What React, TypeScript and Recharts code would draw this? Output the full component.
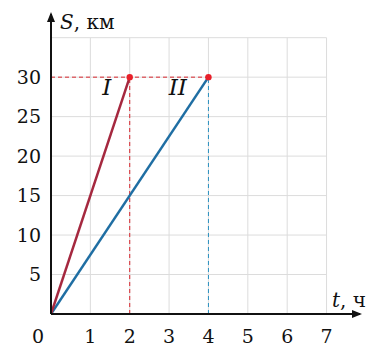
import React from 'react';
import { ComposedChart, Line, XAxis, YAxis, ReferenceLine, ReferenceDot } from 'recharts';

const lineI = [{ t: 0, s: 0 }, { t: 2, s: 30 }];
const lineII = [{ t: 0, s: 0 }, { t: 4, s: 30 }];
const xTicks = [0, 1, 2, 3, 4, 5, 6, 7];
const yTicks = [5, 10, 15, 20, 25, 30];
const gridX = [1, 2, 3, 4, 5, 6, 7];
const gridY = [5, 10, 15, 20, 25, 30, 35];
const X_MAX = 7.85;
const Y_MAX = 38;
const FONT = '"DejaVu Serif", serif';

const XTick = (props: any) => {
  const { x, y, payload } = props;
  const dx = payload.value === 0 ? -13 : 0;
  return (
    <text x={x + dx} y={y + 27} textAnchor="middle" fontFamily={FONT} fontSize={19} fill="#111">
      {payload.value}
    </text>
  );
};

const YTick = (props: any) => {
  const { x, y, payload } = props;
  return (
    <text x={x - 8} y={y} dy="0.35em" textAnchor="end" fontFamily={FONT} fontSize={19} fill="#111">
      {payload.value}
    </text>
  );
};

const endDot = (color: string) => (props: any) => {
  const { cx, cy, index } = props;
  if (index !== 1) return <g key={`d${index}`} />;
  return <circle key={`d${index}`} cx={cx} cy={cy} r={3.2} fill={color} />;
};

export default function App() {
  return (
    <div style={{ position: 'absolute', left: 0, top: 0, background: '#fff' }}>
      <ComposedChart width={390} height={352} margin={{ top: 14, right: 30, left: 0, bottom: 0 }}>
        <XAxis
          type="number"
          dataKey="t"
          domain={[0, X_MAX]}
          ticks={xTicks}
          tick={<XTick />}
          tickLine={false}
          tickSize={0}
          height={38}
          axisLine={{ stroke: '#111', strokeWidth: 2 }}
          allowDataOverflow
        />
        <YAxis
          type="number"
          dataKey="s"
          domain={[0, Y_MAX]}
          ticks={yTicks}
          tick={<YTick />}
          tickLine={false}
          tickSize={0}
          width={51}
          axisLine={{ stroke: '#111', strokeWidth: 2 }}
          allowDataOverflow
        />
        {gridX.map((v) => (
          <ReferenceLine key={`gx${v}`} segment={[{ x: v, y: 0 }, { x: v, y: 35 }]} stroke="#dcdcdc" strokeWidth={1} />
        ))}
        {gridY.map((v) => (
          <ReferenceLine key={`gy${v}`} segment={[{ x: 0, y: v }, { x: 7, y: v }]} stroke="#dcdcdc" strokeWidth={1} />
        ))}
        <ReferenceLine segment={[{ x: 0, y: 30 }, { x: 4, y: 30 }]} stroke="#d8262e" strokeWidth={1} strokeDasharray="4 3" />
        <ReferenceLine segment={[{ x: 2, y: 0 }, { x: 2, y: 30 }]} stroke="#d8262e" strokeWidth={1} strokeDasharray="4 3" />
        <ReferenceLine segment={[{ x: 4, y: 0 }, { x: 4, y: 30 }]} stroke="#2a90c0" strokeWidth={1} strokeDasharray="4 3" />
        <Line data={lineII} dataKey="s" stroke="#1f6ea3" strokeWidth={2.5} dot={endDot('#e8202a')} isAnimationActive={false} />
        <Line data={lineI} dataKey="s" stroke="#a5283f" strokeWidth={2.5} dot={endDot('#e8202a')} isAnimationActive={false} />
        <ReferenceDot
          x={1.42}
          y={28.7}
          r={0}
          shape={(p: any) => (
            <text x={p.cx} y={p.cy} dy="0.35em" textAnchor="middle" fontFamily={FONT} fontStyle="italic" fontSize={23} fill="#111">
              I
            </text>
          )}
        />
        <ReferenceDot
          x={3.22}
          y={28.7}
          r={0}
          shape={(p: any) => (
            <text x={p.cx} y={p.cy} dy="0.35em" textAnchor="middle" fontFamily={FONT} fontStyle="italic" fontSize={23} fill="#111">
              II
            </text>
          )}
        />
        <ReferenceDot
          x={X_MAX}
          y={0}
          r={0}
          ifOverflow="visible"
          shape={(p: any) => (
            <g>
              <polygon points={`${p.cx + 2},${p.cy} ${p.cx - 8},${p.cy - 4} ${p.cx - 8},${p.cy + 4}`} fill="#111" />
              <text x={p.cx - 28} y={p.cy - 7} fontFamily={FONT} fontSize={20} fill="#111">
                <tspan fontStyle="italic">t</tspan>, ч
              </text>
            </g>
          )}
        />
        <ReferenceDot
          x={0}
          y={Y_MAX}
          r={0}
          ifOverflow="visible"
          shape={(p: any) => (
            <g>
              <polygon points={`${p.cx},${p.cy - 2} ${p.cx - 4},${p.cy + 8} ${p.cx + 4},${p.cy + 8}`} fill="#111" />
              <text x={p.cx + 9} y={p.cy + 15} fontFamily={FONT} fontSize={20} fill="#111">
                <tspan fontStyle="italic">S</tspan>, км
              </text>
            </g>
          )}
        />
      </ComposedChart>
    </div>
  );
}
